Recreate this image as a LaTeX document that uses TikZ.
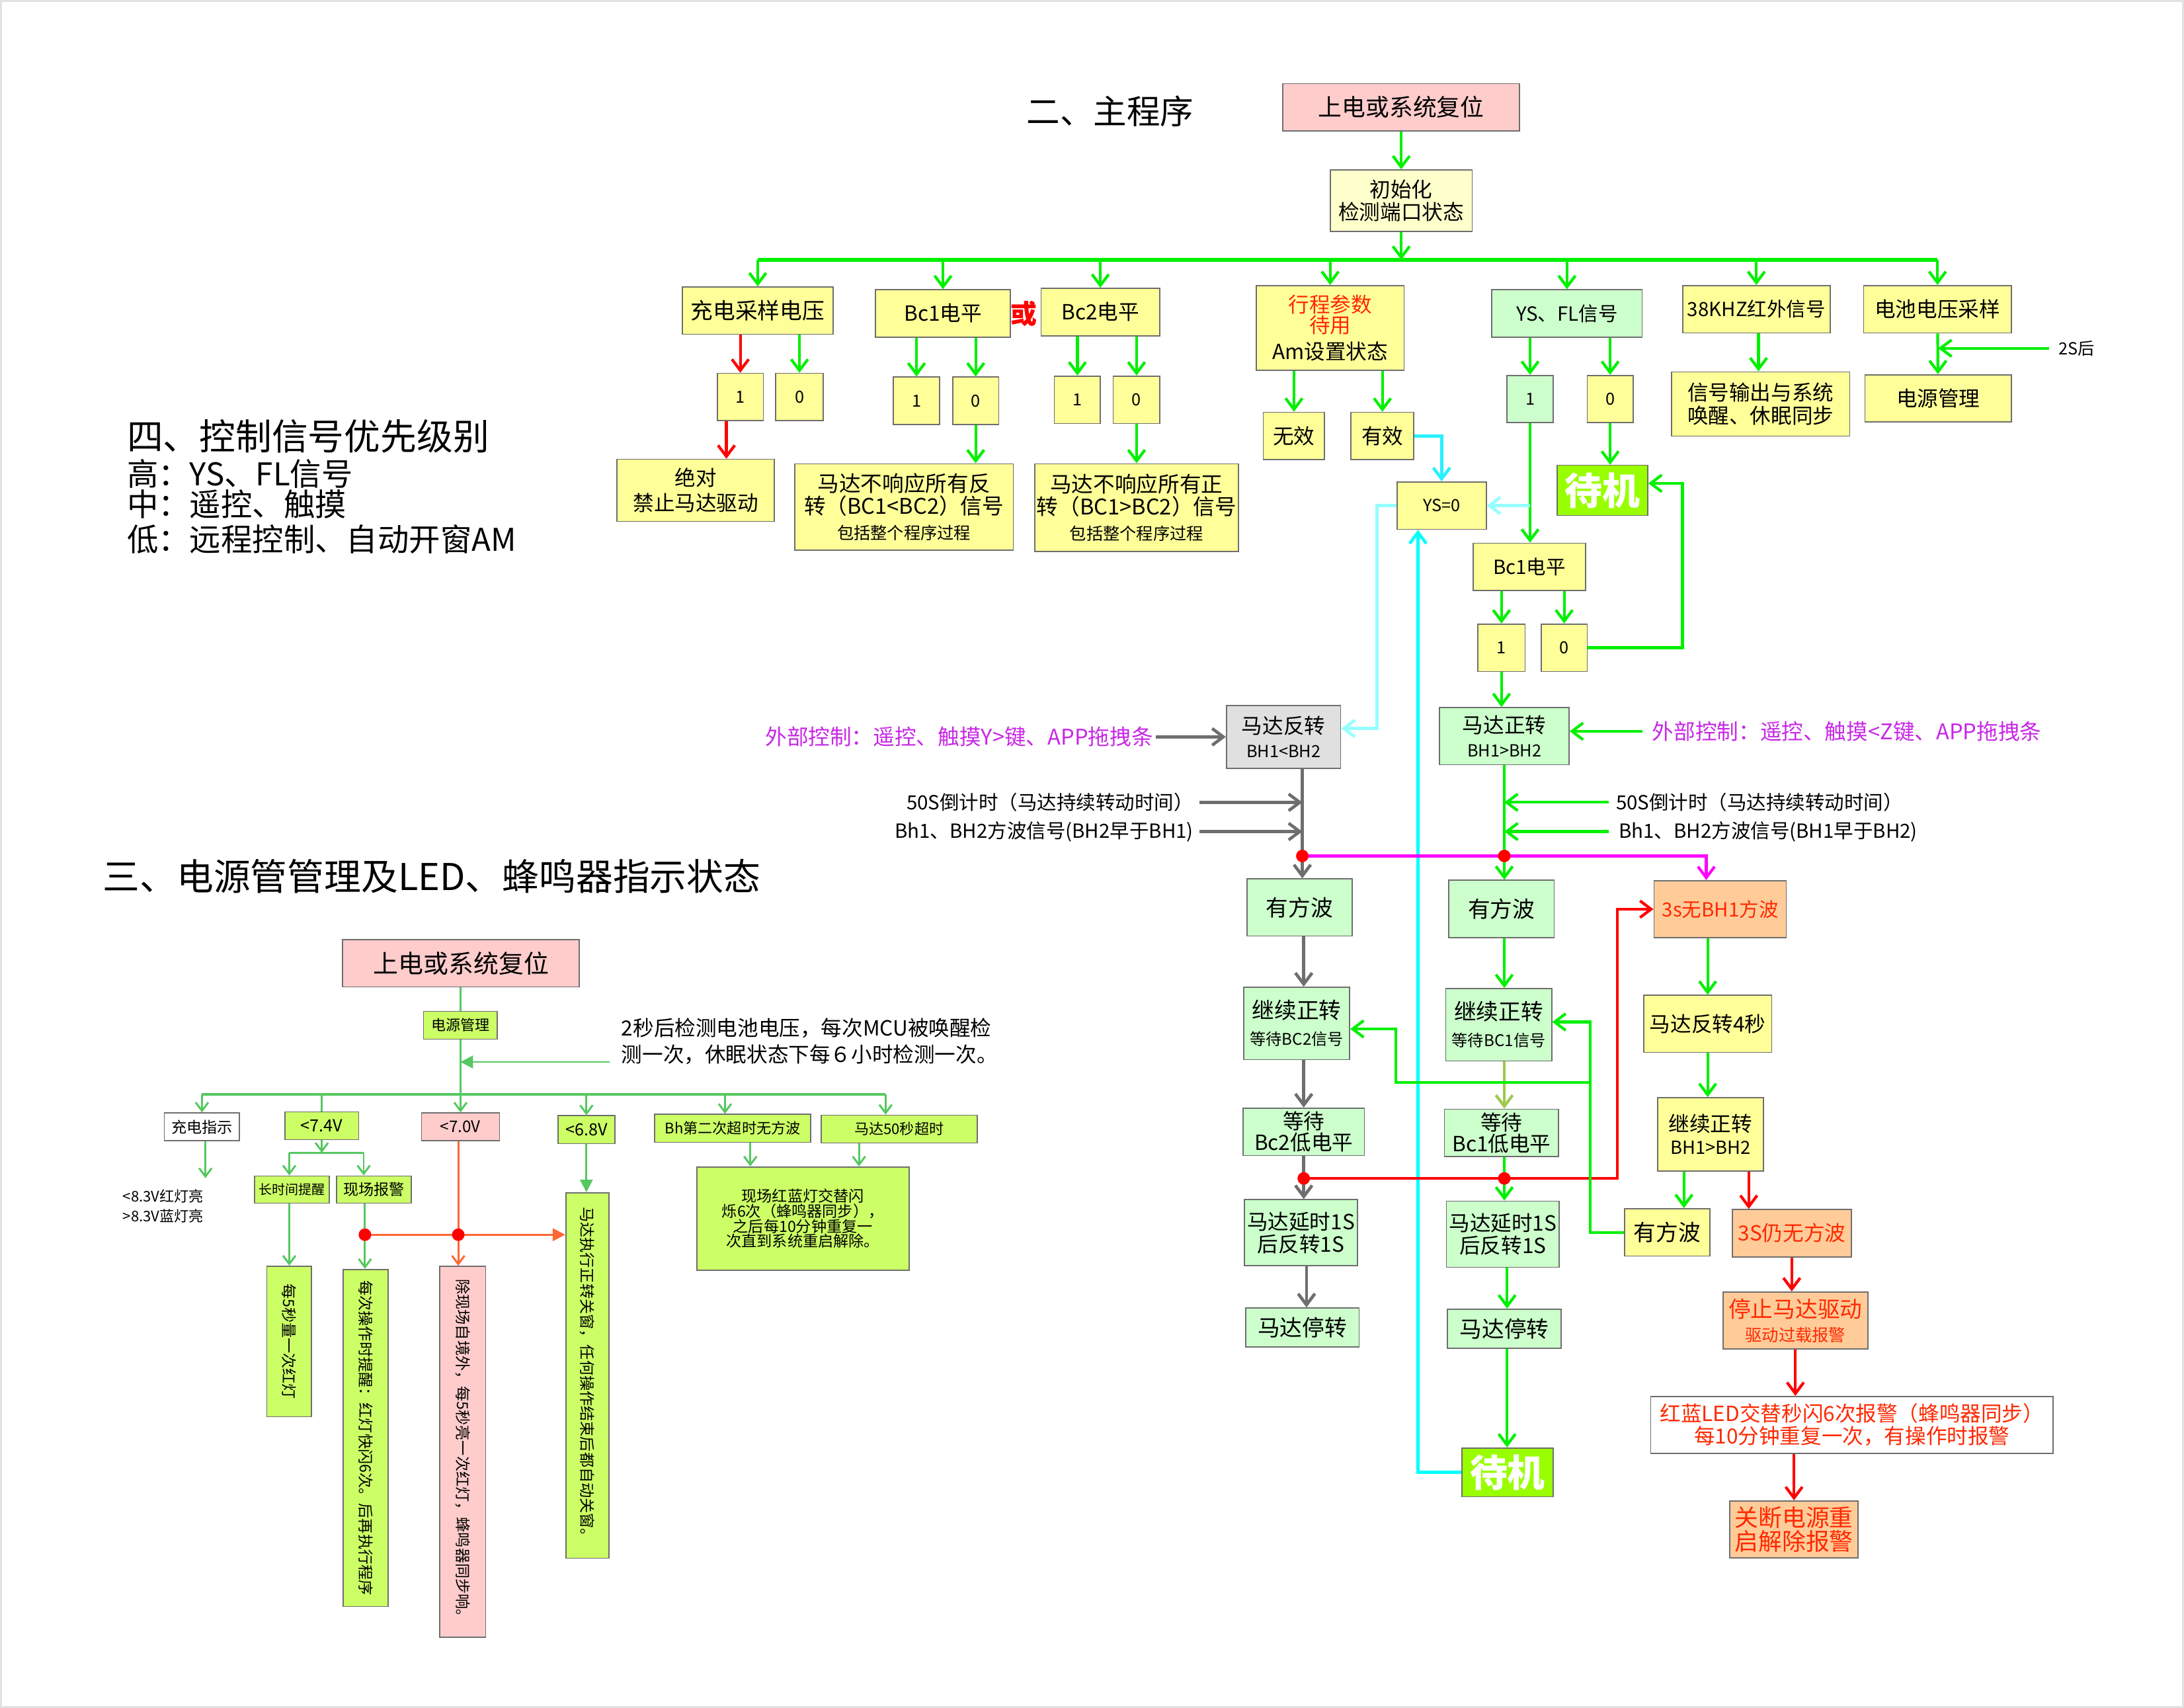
\documentclass[tikz,border=0pt]{standalone}
\usepackage{fontspec}
\setmainfont{Noto Sans CJK SC}
\usetikzlibrary{arrows.meta}
\newcommand\fz[2]{\fontsize{#1}{#2}\selectfont}
\definecolor{gline}{RGB}{0,240,0}
\definecolor{rline}{RGB}{255,0,0}
\definecolor{grayline}{RGB}{110,110,110}
\definecolor{cyanA}{RGB}{0,255,255}
\definecolor{cyanB}{RGB}{150,255,255}
\definecolor{cyanC}{RGB}{40,240,255}
\definecolor{magline}{RGB}{255,0,255}
\definecolor{oliveline}{RGB}{160,200,80}
\definecolor{lgline}{RGB}{85,200,95}
\definecolor{orline}{RGB}{255,102,51}
\definecolor{fyel}{RGB}{255,255,153}
\definecolor{fyel2}{RGB}{255,255,204}
\definecolor{fpink}{RGB}{255,204,204}
\definecolor{fgreen}{RGB}{204,255,204}
\definecolor{fgray}{RGB}{224,224,224}
\definecolor{forange}{RGB}{255,204,153}
\definecolor{fstand}{RGB}{153,255,0}
\definecolor{flime}{RGB}{204,255,102}
\definecolor{bordc}{RGB}{110,110,110}
\definecolor{purp}{RGB}{200,40,230}
\definecolor{tred}{RGB}{255,40,0}
\definecolor{frame}{RGB}{225,225,225}
\tikzset{
  bx/.style={draw=bordc, line width=0.8pt, inner sep=1pt, align=center, text=black},
  txt/.style={inner sep=0pt, align=center},
  tipA/.style={-{Straight Barb[length=8pt,width=12pt]}},
  tipB/.style={-{Straight Barb[length=6pt,width=9pt]}},
  tipT/.style={-{Triangle[length=9pt,width=9pt]}},
  ga/.style={draw=gline, line width=2pt, tipA},
  gl/.style={draw=gline, line width=2pt},
  gbus/.style={draw=gline, line width=3pt},
  ra/.style={draw=rline, line width=2pt, tipA},
  rl/.style={draw=rline, line width=2pt},
  gya/.style={draw=grayline, line width=2.2pt, tipA},
  gyl/.style={draw=grayline, line width=2.2pt},
  ca/.style={draw=cyanA, line width=2.2pt, tipA},
  cb/.style={draw=cyanB, line width=2.2pt, tipA},
  cc/.style={draw=cyanC, line width=2.2pt, tipA},
  maga/.style={draw=magline, line width=2pt, tipA},
  ola/.style={draw=oliveline, line width=2pt, tipA},
  lga/.style={draw=lgline, line width=1.4pt, tipB},
  lgl/.style={draw=lgline, line width=1.4pt},
  lgbus/.style={draw=lgline, line width=2.2pt},
  lgt/.style={draw=lgline, fill=lgline, line width=1.4pt, tipT},
  ora/.style={draw=orline, line width=1.4pt, tipB},
  ort/.style={draw=orline, fill=orline, line width=1.4pt, tipT},
}
\begin{document}
\begin{tikzpicture}[x=1pt,y=-1pt]
\useasboundingbox (0,0) rectangle (1568,1226);
\fill[white] (0,0) rectangle (1568,1226);
\draw[frame, line width=1.4pt] (0.7,0.7) rectangle (1567.3,1225.3);

% ---------- titles ----------
\node[txt, font={\fz{24}{28}}] (t2) at (797,80) {二、主程序};
\node[txt, anchor=west, font={\fz{26}{28}}] (t4a) at (91,313) {四、控制信号优先级别};
\node[txt, anchor=west, font={\fz{22.5}{26}}] (t4b) at (91,340) {高：YS、FL信号};
\node[txt, anchor=west, font={\fz{22.5}{26}}] (t4c) at (91,362) {中：遥控、触摸};
\node[txt, anchor=west, font={\fz{22.5}{26}}] (t4d) at (91,387) {低：远程控制、自动开窗AM};
\node[txt, font={\fz{26.5}{28}}] (t3) at (310,629) {三、电源管管理及LED、蜂鸣器指示状态};

% ---------- main program ----------
\node[bx, fill=fpink, minimum width=170pt, minimum height=34pt, font={\fz{17}{20}}] (top) at (1006,77) {上电或系统复位};
\node[bx, fill=fyel2, minimum width=102pt, minimum height=44pt, font={\fz{15}{16}}] (init) at (1006,144) {初始化\\检测端口状态};
\coordinate (busL) at (544,186.5);
\coordinate (busR) at (1391,186.5);

\node[bx, fill=fyel, minimum width=108pt, minimum height=34pt, font={\fz{16}{18}}] (chg) at (544,223) {充电采样电压};
\node[bx, fill=fyel, minimum width=97pt, minimum height=34pt, font={\fz{15}{18}}] (bc1) at (677,225) {Bc1电平};
\node[txt, text=rline, font={\fz{19}{20}\bfseries}] (orw) at (735,225) {或};
\node[bx, fill=fyel, minimum width=85pt, minimum height=34pt, font={\fz{15}{18}}] (bc2) at (790,224) {Bc2电平};
\node[bx, fill=fyel, minimum width=106pt, minimum height=61pt, font={\fz{15}{15}}] (trip) at (955,235.5) {\textcolor{tred}{行程参数}\\\textcolor{tred}{待用}\\[4pt]Am设置状态};
\node[bx, fill=fgreen, minimum width=108pt, minimum height=34pt, font={\fz{14}{16}}] (ysfl) at (1125,225) {YS、FL信号};
\node[bx, fill=fyel, minimum width=106pt, minimum height=34pt, font={\fz{14}{16}}] (ir38) at (1261,222) {38KHZ红外信号};
\node[bx, fill=fyel, minimum width=106pt, minimum height=34pt, font={\fz{15}{16}}] (batt) at (1391,222) {电池电压采样};

\node[bx, fill=fyel, minimum width=33pt, minimum height=34pt, font={\fz{12}{14}}] (c1) at (531.5,285) {1};
\node[bx, fill=fyel, minimum width=34pt, minimum height=34pt, font={\fz{12}{14}}] (c0) at (574,285) {0};
\node[bx, fill=fyel, minimum width=113pt, minimum height=44.5pt, font={\fz{15}{18}}] (abs) at (499.5,352) {绝对\\禁止马达驱动};
\node[bx, fill=fyel, minimum width=33pt, minimum height=34pt, font={\fz{12}{14}}] (b1one) at (658,287.7) {1};
\node[bx, fill=fyel, minimum width=33pt, minimum height=34pt, font={\fz{12}{14}}] (b1zero) at (700.5,287.7) {0};
\node[bx, fill=fyel, minimum width=157pt, minimum height=62pt, font={\fz{15.5}{16}}] (big1) at (649,364) {马达不响应所有反\\转（BC1<BC2）信号\\[2pt]{\fz{12}{14}包括整个程序过程}};
\node[bx, fill=fyel, minimum width=33pt, minimum height=34pt, font={\fz{12}{14}}] (b2one) at (773.5,287) {1};
\node[bx, fill=fyel, minimum width=33.5pt, minimum height=34pt, font={\fz{12}{14}}] (b2zero) at (816,287) {0};
\node[bx, fill=fyel, minimum width=146pt, minimum height=63pt, font={\fz{15.5}{16}}] (big2) at (816,364.5) {马达不响应所有正\\转（BC1>BC2）信号\\[2pt]{\fz{12}{14}包括整个程序过程}};

\node[bx, fill=fyel, minimum width=44pt, minimum height=34pt, font={\fz{15}{16}}] (inval) at (929,313) {无效};
\node[bx, fill=fyel, minimum width=45pt, minimum height=34pt, font={\fz{15}{16}}] (valid) at (992.5,313) {有效};
\node[bx, fill=fyel, minimum width=64pt, minimum height=34pt, font={\fz{12}{14}}] (ys0) at (1035,363) {YS=0};
\node[bx, fill=fgreen, minimum width=33pt, minimum height=34pt, font={\fz{12}{14}}] (ys1) at (1098.5,286.5) {1};
\node[bx, fill=fyel, minimum width=33pt, minimum height=34pt, font={\fz{12}{14}}] (yszero) at (1156,286.5) {0};
\node[bx, fill=fstand, text=white, minimum width=65pt, minimum height=36pt, font={\fz{27}{30}\bfseries}] (standby1) at (1150.5,352) {待机};
\node[bx, fill=fyel, minimum width=81pt, minimum height=34pt, font={\fz{14}{16}}] (bc1b) at (1098,407) {Bc1电平};
\node[bx, fill=fyel, minimum width=128pt, minimum height=46pt, font={\fz{15}{17}}] (info) at (1264,290) {信号输出与系统\\唤醒、休眠同步};
\node[bx, fill=fyel, minimum width=105pt, minimum height=34pt, font={\fz{15}{16}}] (pm) at (1391.5,286) {电源管理};
\node[txt, anchor=west, font={\fz{12}{14}}] (s2) at (1478,250) {2S后};

\node[bx, fill=fyel, minimum width=34pt, minimum height=34pt, font={\fz{12}{14}}] (bc1bone) at (1078,465) {1};
\node[bx, fill=fyel, minimum width=33pt, minimum height=34pt, font={\fz{12}{14}}] (bc1bzero) at (1123,465) {0};
\node[bx, fill=fgreen, minimum width=93pt, minimum height=41pt, font={\fz{15}{17}}] (fwd) at (1080,528.5) {马达正转\\{\fz{12}{14}BH1>BH2}};
\node[bx, fill=fgray, minimum width=82pt, minimum height=45pt, font={\fz{15}{17}}] (rev) at (921.5,529) {马达反转\\{\fz{12}{14}BH1<BH2}};

\node[txt, anchor=east, inner xsep=2pt, text=purp, font={\fz{15.5}{18}}] (extL) at (830,529) {外部控制：遥控、触摸Y>键、APP拖拽条};
\node[txt, anchor=west, inner xsep=7pt, text=purp, font={\fz{15.5}{18}}] (extR) at (1179,525) {外部控制：遥控、触摸<Z键、APP拖拽条};
\node[txt, anchor=east, inner xsep=4pt, font={\fz{14}{16}}] (t50L) at (861,576) {50S倒计时（马达持续转动时间）};
\node[txt, anchor=east, inner xsep=4pt, font={\fz{14}{16}}] (tbhL) at (861,597) {Bh1、BH2方波信号(BH2早于BH1)};
\node[txt, anchor=west, inner xsep=5pt, font={\fz{14}{16}}] (t50R) at (1155,576) {50S倒计时（马达持续转动时间）};
\node[txt, anchor=west, inner xsep=7pt, font={\fz{14}{16}}] (tbhR) at (1155,597) {Bh1、BH2方波信号(BH1早于BH2)};

\coordinate (dL) at (935,614.5);
\coordinate (dR) at (1080,614.5);
\coordinate (mc) at (1225,614.5);
\coordinate (dL2) at (936,846);
\coordinate (dR2) at (1080,846);
\coordinate (rc) at (1161,846);

\node[bx, fill=fgreen, minimum width=75.5pt, minimum height=41pt, font={\fz{16}{18}}] (wavL) at (933,651.5) {有方波};
\node[bx, fill=fgreen, minimum width=75.5pt, minimum height=41pt, font={\fz{16}{18}}] (wavR) at (1078,652.5) {有方波};
\node[bx, fill=forange, text=tred, minimum width=95pt, minimum height=41pt, font={\fz{14}{16}}] (fail1) at (1235,652.7) {3s无BH1方波};

\node[bx, fill=fgreen, minimum width=76pt, minimum height=52pt, font={\fz{16}{18}}] (contL) at (931,734.7) {继续正转\\[1pt]{\fz{11.5}{14}等待BC2信号}};
\node[bx, fill=fgreen, minimum width=87pt, minimum height=34pt, font={\fz{15}{15}}] (waitL) at (936,812.5) {等待\\Bc2低电平};
\node[bx, fill=fgreen, minimum width=81pt, minimum height=47.5pt, font={\fz{15}{16}}] (delL) at (934,885) {马达延时1S\\后反转1S};
\node[bx, fill=fgreen, minimum width=81.4pt, minimum height=28pt, font={\fz{16}{18}}] (stopL) at (935,953) {马达停转};

\node[bx, fill=fgreen, minimum width=76pt, minimum height=52pt, font={\fz{16}{18}}] (contR) at (1076,735.7) {继续正转\\[1pt]{\fz{11.5}{14}等待BC1信号}};
\node[bx, fill=fgreen, minimum width=82pt, minimum height=34pt, font={\fz{15}{15}}] (waitR) at (1078,813.3) {等待\\Bc1低电平};
\node[bx, fill=fgreen, minimum width=81pt, minimum height=47.5pt, font={\fz{15}{16}}] (delR) at (1079,886) {马达延时1S\\后反转1S};
\node[bx, fill=fgreen, minimum width=81.4pt, minimum height=28pt, font={\fz{16}{18}}] (stopR) at (1080,953.8) {马达停转};
\node[bx, fill=fstand, text=white, minimum width=65.4pt, minimum height=35pt, font={\fz{27}{30}\bfseries}] (standby2) at (1082.3,1057) {待机};

\node[bx, fill=fyel, minimum width=92pt, minimum height=41pt, font={\fz{15}{17}}] (rev4) at (1226,735) {马达反转4秒};
\node[bx, fill=fyel, minimum width=76pt, minimum height=52.6pt, font={\fz{15}{16}}] (contY) at (1228,814.3) {继续正转\\{\fz{13}{15}BH1>BH2}};
\node[bx, fill=fyel, minimum width=61.5pt, minimum height=34pt, font={\fz{16}{18}}] (wavY) at (1197,884.7) {有方波};
\node[bx, fill=forange, text=tred, minimum width=85.6pt, minimum height=34pt, font={\fz{15}{17}}] (fail2) at (1286.4,885.3) {3S仍无方波};
\node[bx, fill=forange, text=tred, minimum width=104pt, minimum height=41pt, font={\fz{16}{17}}] (stopM) at (1289,948) {停止马达驱动\\{\fz{12}{14}驱动过载报警}};
\node[bx, fill=white, text=tred, minimum width=289pt, minimum height=41pt, font={\fz{15}{16}}] (alarm) at (1329.6,1023) {红蓝LED交替秒闪6次报警（蜂鸣器同步）\\每10分钟重复一次，有操作时报警};
\node[bx, fill=forange, text=tred, minimum width=92pt, minimum height=41pt, font={\fz{17}{17}}] (shut) at (1288,1098) {关断电源重\\启解除报警};

% ---- main connectors ----
\draw[ga] (top) -- (init);
\draw[ga] (init.south) -- (init.south |- busL);
\draw[gbus] (busL) -- (busR);
\foreach \n in {chg,bc1,bc2,trip,ysfl,ir38,batt} \draw[ga] (\n.north |- busL) -- (\n.north);
\draw[ra] (c1.north |- chg.south) -- (c1.north);
\draw[ga] (c0.north |- chg.south) -- (c0.north);
\draw[ra] ([xshift=-10pt]c1.south) -- ([xshift=-10pt]c1.south |- abs.north);
\draw[ga] (b1one.north |- bc1.south) -- (b1one.north);
\draw[ga] (b1zero.north |- bc1.south) -- (b1zero.north);
\draw[ga] (b1zero.south) -- (b1zero.south |- big1.north);
\draw[ga] (b2one.north |- bc2.south) -- (b2one.north);
\draw[ga] (b2zero.north |- bc2.south) -- (b2zero.north);
\draw[ga] (b2zero.south) -- (b2zero.south |- big2.north);
\draw[ga] (inval.north |- trip.south) -- (inval.north);
\draw[ga] (valid.north |- trip.south) -- (valid.north);
\draw[cc] (valid.east) -| (ys0.north);
\draw[ga] (ys1.north |- ysfl.south) -- (ys1.north);
\draw[ga] (yszero.north |- ysfl.south) -- (yszero.north);
\draw[ga] (yszero.south) -- (yszero.south |- standby1.north);
\draw[ga] (ys1.south) -- (ys1.south |- bc1b.north);
\coordinate (ysb) at (1098.5,363);
\draw[cb] (ysb) -- (ys0.east);
\draw[ga] ([xshift=1.5pt]ir38.south) -- ([xshift=1.5pt]ir38.south |- info.north);
\draw[ga] (batt) -- (pm);
\draw[ga] ([xshift=-7pt]s2.west) -- (s2.west -| pm.north);
\draw[ga] (bc1bone.north |- bc1b.south) -- (bc1bone.north);
\draw[ga] (bc1bzero.north |- bc1b.south) -- (bc1bzero.north);
\draw[ga] (bc1bone.south) -- (bc1bone.south |- fwd.north);
\draw[ga] (bc1bzero.east) -- ++(68,0) |- ([yshift=5pt]standby1.east);
\draw[cb] (ys0.west) -- ++(-14,0) |- ([yshift=6pt]rev.east);
\draw[ca] (standby2.west) -| ([xshift=-17pt]ys0.south);
\draw[gya] (extL) -- (rev);
\draw[ga] (extR.west) -- (extR.west -| fwd.east);
\coordinate (rb) at ([xshift=13.5pt]rev.south);
\draw[gyl] (rb) -- (dL);
\draw[gya] (t50L.east) -- (t50L.east -| dL);
\draw[gya] (tbhL.east) -- (tbhL.east -| dL);
\draw[gl] (fwd.south) -- (dR);
\draw[ga] (t50R.west) -- (t50R.west -| dR);
\draw[ga] (tbhR.west) -- (tbhR.west -| dR);
\draw[maga] (dL) -- (mc) -- (mc |- fail1.north);
\draw[gya] (dL) -- (dL |- wavL.north);
\draw[ga] (dR) -- (dR |- wavR.north);
% left column
\draw[gya] (dL2 |- wavL.south) -- (dL2 |- contL.north);
\draw[gya] (dL2 |- contL.south) -- (dL2 |- waitL.north);
\draw[gya] (dL2 |- waitL.south) -- (dL2 |- delL.north);
\draw[gya] ([xshift=2pt]dL2 |- delL.south) -- ([xshift=2pt]dL2 |- stopL.north);
% right column
\draw[ga] (dR2 |- wavR.south) -- (dR2 |- contR.north);
\draw[ola] (dR2 |- contR.south) -- (dR2 |- waitR.north);
\draw[ga] (dR2 |- waitR.south) -- (dR2 |- delR.north);
\draw[ga] ([xshift=2pt]dR2 |- delR.south) -- ([xshift=2pt]dR2 |- stopR.north);
\draw[ga] ([xshift=2pt]dR2 |- stopR.south) -- ([xshift=2pt]dR2 |- standby2.north);
% red
\draw[ra] (dL2) -- (rc) |- (fail1.west);
% right branch
\draw[ga] (rev4.north |- fail1.south) -- (rev4.north);
\draw[ga] (rev4.south) -- (rev4.south |- contY.north);
\draw[ga] ([xshift=-19pt]contY.south) -- ([xshift=-19pt]contY.south |- wavY.north);
\draw[ra] ([xshift=27.5pt]contY.south) -- ([xshift=27.5pt]contY.south |- fail2.north);
\draw[ra] (fail2.south) -- (fail2.south |- stopM.north);
\draw[ra] (stopM.south) -- (stopM.south |- alarm.north);
\draw[ra] (shut.north |- alarm.south) -- (shut.north);
% green loop back
\draw[ga] (wavY.west) -- ++(-24,0) |- ([yshift=2pt]contR.east);
\coordinate (gbr) at (1142,777);
\draw[ga] (gbr) -- ++(-140,0) |- ([yshift=-4pt]contL.east);
% dots
\fill[rline] (dL) circle (4.5pt);
\fill[rline] (dR) circle (4.5pt);
\fill[rline] (dL2) circle (4.5pt);
\fill[rline] (dR2) circle (4.5pt);

% ---------- power management section ----------
\node[bx, fill=fpink, minimum width=170pt, minimum height=34pt, font={\fz{18}{20}}] (top2) at (331,691.5) {上电或系统复位};
\node[bx, fill=flime, minimum width=53pt, minimum height=20pt, font={\fz{10.5}{12}}] (pm2) at (330.6,736) {电源管理};
\node[txt, anchor=west, align=left, font={\fz{15}{19}}] (note2) at (446,747.5) {2秒后检测电池电压，每次MCU被唤醒检\\测一次，休眠状态下每６小时检测一次。};
\coordinate (b2L) at (145,785.6);
\coordinate (b2R) at (635.8,785.6);
\coordinate (dbh) at (520.5,785.6);
\node[bx, fill=white, minimum width=54pt, minimum height=20pt, font={\fz{11}{12}}] (chgind) at (145,809) {充电指示};
\node[bx, fill=flime, minimum width=53pt, minimum height=20pt, font={\fz{12}{13}}] (v74) at (231,808.2) {<7.4V};
\node[bx, fill=fpink, minimum width=56pt, minimum height=20pt, font={\fz{11.5}{13}}] (v70) at (330.6,809) {<7.0V};
\node[bx, fill=flime, minimum width=41pt, minimum height=20pt, font={\fz{12}{13}}] (v68) at (421,811) {<6.8V};
\node[bx, fill=flime, minimum width=112pt, minimum height=20pt, font={\fz{10.5}{12}}] (bh2) at (526,810) {Bh第二次超时无方波};
\node[bx, fill=flime, minimum width=112pt, minimum height=20pt, font={\fz{10.5}{12}}] (m50) at (645.5,810.6) {马达50秒超时};
\node[txt, anchor=west, align=left, font={\fz{10.5}{14}}] (chgt) at (88,866) {<8.3V红灯亮\\>8.3V蓝灯亮};
\coordinate (chgend) at (147.5,845.8);
\coordinate (barL) at (207.7,827.6);
\coordinate (barR) at (261.1,827.6);
\node[bx, fill=flime, minimum width=53.5pt, minimum height=19.5pt, font={\fz{9.5}{11}}] (lts) at (209.6,854) {长时间提醒};
\node[bx, fill=flime, minimum width=53.5pt, minimum height=19.5pt, font={\fz{11}{12}}] (xcbj) at (268.4,854) {现场报警};
\node[bx, fill=flime, rotate=-90, minimum width=108pt, minimum height=32pt, font={\fz{11}{13}}] (b5s) at (207.6,963) {每5秒量一次红灯};
\node[bx, fill=flime, rotate=-90, minimum width=242pt, minimum height=32pt, font={\fz{11}{13}}] (bop) at (262.5,1032.3) {每次操作时提醒：红灯快闪6次。后再执行程序};
\node[bx, fill=fpink, rotate=-90, minimum width=266.5pt, minimum height=33pt, font={\fz{11}{13}}] (bexc) at (332.2,1042.3) {除现场自境外，每5秒亮一次红灯，蜂鸣器同步响。};
\node[bx, fill=flime, rotate=-90, minimum width=262.4pt, minimum height=31pt, font={\fz{11}{13}}] (bmot) at (421.7,987.5) {马达执行正转关窗，任何操作结束后都自动关窗。};
\node[bx, fill=flime, minimum width=152.4pt, minimum height=74.3pt, font={\fz{11}{10.8}}] (bled) at (576.4,874.9) {现场红蓝灯交替闪\\烁6次（蜂鸣器同步），\\之后每10分钟重复一\\次直到系统重启解除。};
\coordinate (rd1) at (262,886.4);
\coordinate (rd2) at (329,886.4);
\coordinate (n2a) at (437.8,762.4);

\draw[lgl] (pm2.north |- top2.south) -- (pm2.north);
\draw[lga] (pm2.south) -- (pm2.south |- v70.north);
\draw[lgt] (n2a) -- (n2a -| pm2.south);
\draw[lgbus] (b2L) -- (b2R);
\draw[lga] (b2L) -- (chgind.north);
\draw[lgl] (v74.north |- b2L) -- (v74.north);
\draw[lga] (v68.north |- b2L) -- (v68.north);
\draw[lga] (dbh) -- (dbh |- bh2.north);
\draw[lga] (b2R) -- (b2R |- m50.north);
\draw[lga] (chgind.south -| chgend) -- (chgend);
\draw[lga] (v74.south) -- (v74.south |- barL);
\draw[lgl] (barL) -- (barR);
\draw[lga] (barL) -- (barL |- lts.north);
\draw[lga] (barR) -- (barR |- xcbj.north);
\draw[lga] (barL |- lts.south) -- (barL |- b5s.west);
\draw[lga] (rd1 |- xcbj.south) -- (rd1 |- bop.west);
\draw[ora] (rd2 |- v70.south) -- (rd2 |- bexc.west);
\draw[lgt] (v68.south) -- (v68.south |- bmot.west);
\draw[ort] (rd1) -- (rd1 -| bmot.south);
\draw[lga] ([xshift=12.7pt]bh2.south) -- ([xshift=12.7pt]bh2.south |- bled.north);
\draw[lga] ([xshift=-28.8pt]m50.south) -- ([xshift=-28.8pt]m50.south |- bled.north);
\fill[rline] (rd1) circle (4.5pt);
\fill[rline] (rd2) circle (4.5pt);
\end{tikzpicture}
\end{document}
